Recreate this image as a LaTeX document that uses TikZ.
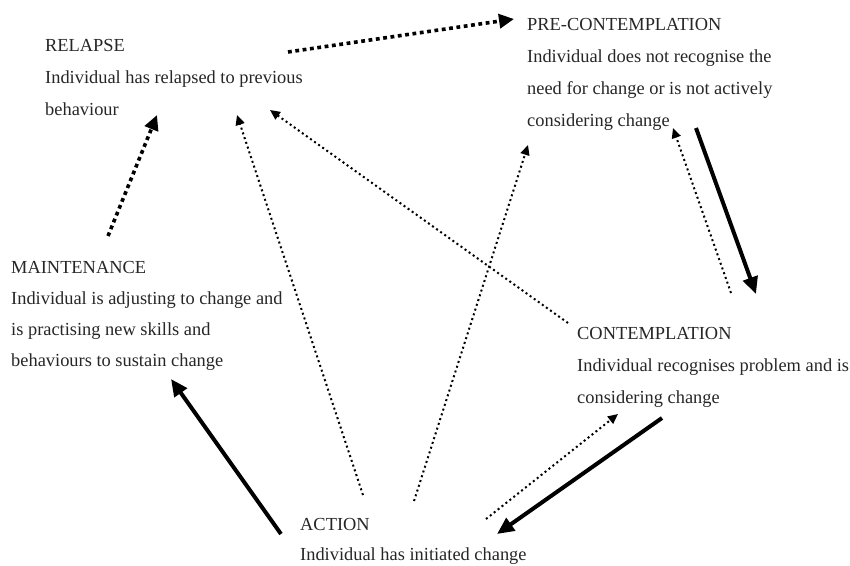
\documentclass[tikz,border=0pt]{standalone}
\usepackage{fontspec}
\setmainfont{Liberation Serif}
\usetikzlibrary{arrows.meta}
\begin{document}
\begin{tikzpicture}[x=1pt,y=-1pt,
  stage/.style={anchor=north west,inner sep=0pt,align=left,font=\fontsize{18.4}{32}\selectfont,text=black!85},
  bigdots/.style={line width=3.6pt,dash pattern=on 3.8pt off 3.6pt,-{Triangle[length=15pt,width=14pt]}},
  smalldots/.style={line width=2pt,dash pattern=on 2pt off 3pt,-{Triangle[length=10pt,width=9pt]}},
  solidarrow/.style={line width=4pt,-{Triangle[length=17pt,width=15pt]}}]
\useasboundingbox (0,0) rectangle (850,565);
\node[stage] (relapse) at (45,39) {RELAPSE\\Individual has relapsed to previous\\behaviour};
\node[stage] (pre) at (527,18) {PRE-CONTEMPLATION\\Individual does not recognise the\\need for change or is not actively\\considering change};
\node[stage,font=\fontsize{18.4}{31}\selectfont] (maint) at (11,261) {MAINTENANCE\\Individual is adjusting to change and\\is practising new skills and\\behaviours to sustain change};
\node[stage] (contemp) at (577,327) {CONTEMPLATION\\Individual recognises problem and is\\considering change};
\node[stage,font=\fontsize{18.4}{30}\selectfont] (action) at (300,518) {ACTION\\Individual has initiated change};
% connector end points
\coordinate (r1) at (288,52);   \coordinate (p1) at (514,19);
\coordinate (m1) at (108,236);  \coordinate (r2) at (157,115);
\coordinate (a1) at (363,495);  \coordinate (r3) at (237,115);
\coordinate (c1) at (568,323);  \coordinate (r4) at (270,110);
\coordinate (a2) at (414,501);  \coordinate (p2) at (528,145);
\coordinate (p3) at (696,128);  \coordinate (c2) at (756,294);
\coordinate (c3) at (731,293);  \coordinate (p4) at (673,128);
\coordinate (c4) at (662,418);  \coordinate (a3) at (497,534);
\coordinate (a4) at (486,519);  \coordinate (c5) at (618,414);
\coordinate (a5) at (281,534);  \coordinate (m2) at (171,379);
\draw[bigdots] (r1) -- (p1);
\draw[bigdots] (m1) -- (r2);
\draw[smalldots] (a1) -- (r3);
\draw[smalldots] (c1) -- (r4);
\draw[smalldots] (a2) -- (p2);
\draw[solidarrow] (p3) -- (c2);
\draw[smalldots] (c3) -- (p4);
\draw[solidarrow] (c4) -- (a3);
\draw[smalldots] (a4) -- (c5);
\draw[solidarrow] (a5) -- (m2);
\end{tikzpicture}
\end{document}
